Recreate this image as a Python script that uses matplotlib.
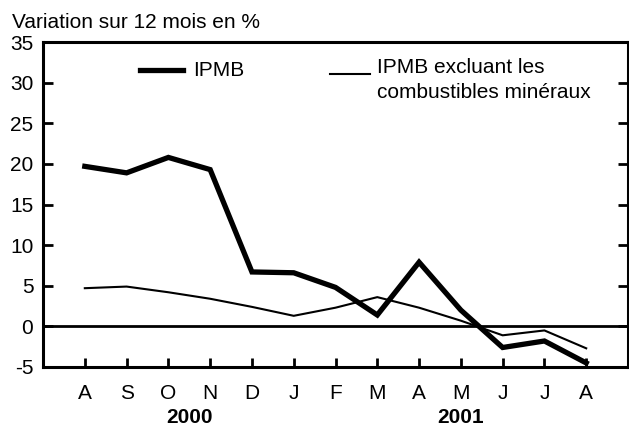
import matplotlib
matplotlib.use("Agg")
import matplotlib.pyplot as plt
from matplotlib.lines import Line2D

plt.rcParams['font.family'] = ['Liberation Sans', 'DejaVu Sans']
plt.rcParams['axes.unicode_minus'] = False

mois = ['A', 'S', 'O', 'N', 'D', 'J', 'F', 'M', 'A', 'M', 'J', 'J', 'A']
ipmb = [19.7, 18.9, 20.8, 19.3, 6.7, 6.6, 4.8, 1.4, 7.9, 2.0, -2.6, -1.8, -4.5]
ipmb_hors_comb = [4.7, 4.9, 4.2, 3.4, 2.4, 1.3, 2.3, 3.6, 2.3, 0.7, -1.1, -0.5, -2.7]
annees = ['2000', '2001']
pos_annees = [2.5, 9]
fs = 15

fig = plt.figure(figsize=(6.29, 4.25), dpi=100)
ax = fig.add_axes([0.0684, 0.1365, 0.93, 0.7645])

x = list(range(len(mois)))
ax.plot(x, ipmb, color='black', lw=3.8, solid_joinstyle='miter')
ax.plot(x, ipmb_hors_comb, color='black', lw=1.5)
ax.axhline(0, color='black', lw=2)

ax.set_xlim(-1, 13)
ax.set_ylim(-5, 35)
ax.set_yticks(range(-5, 36, 5))
ax.set_xticks(x)
ax.set_xticklabels(mois)
ax.set_xticks([5], minor=True)
ax.tick_params(axis='x', which='minor', direction='in', length=13.5, width=2, labelbottom=False)

for s in ax.spines.values():
    s.set_linewidth(2.2)
ax.tick_params(axis='y', direction='in', length=7, width=2, right=True, labelsize=fs, pad=7)
ax.tick_params(axis='x', which='major', direction='in', length=6.5, width=2, labelsize=fs, pad=12)

for annee, p in zip(annees, pos_annees):
    ax.text(p, -0.154, annee, transform=ax.get_xaxis_transform(), ha='center', va='center',
            fontsize=fs, fontweight='bold')

fig.text(0.019, 0.948, 'Variation sur 12 mois en %', fontsize=fs, va='center', ha='left')

# legende (placee a la main)
ax.add_line(Line2D([0.166, 0.239], [0.914, 0.914], transform=ax.transAxes, color='black', lw=3.8))
ax.text(0.256, 0.914, 'IPMB', transform=ax.transAxes, fontsize=fs, va='center', ha='left')
ax.add_line(Line2D([0.491, 0.559], [0.902, 0.902], transform=ax.transAxes, color='black', lw=1.5))
ax.text(0.571, 0.923, 'IPMB excluant les', transform=ax.transAxes, fontsize=fs, va='center', ha='left')
ax.text(0.571, 0.846, 'combustibles minéraux', transform=ax.transAxes, fontsize=fs, va='center', ha='left')

fig.savefig('out.png', dpi=100)
